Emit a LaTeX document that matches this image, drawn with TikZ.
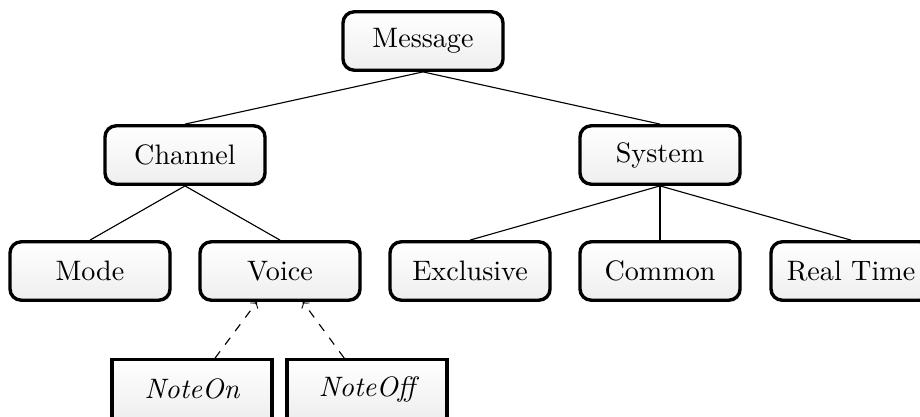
\documentclass[tikz,border=0pt]{standalone}
\usetikzlibrary{shadows,calc}
\tikzset{
  box/.style={draw, very thick, rounded corners=4pt, minimum width=2cm, minimum height=0.73cm,
    top color=white, bottom color=gray!13,
    drop shadow={opacity=0.25, shadow xshift=0.6pt, shadow yshift=-0.6pt}},
  leafbox/.style={box, sharp corners, font=\itshape},
  link/.style={draw, line width=0.4pt},
  dep/.style={->, dashed, line width=0.4pt},
}
\begin{document}
\begin{tikzpicture}[x=0.0125cm, y=-0.0125cm]
\useasboundingbox (0,0) rectangle (920,416);
\node[box] (Message) at (423,41) {Message};
\node[box] (Channel) at (185,155) {Channel};
\node[box] (System) at (660,155) {System};
\node[box] (Mode) at (90,271) {Mode};
\node[box] (Voice) at (280,271) {Voice};
\node[box] (Exclusive) at (470,271) {Exclusive};
\node[box] (Common) at (660,271) {Common};
\node[box] (RealTime) at (851,271) {Real Time};
\node[leafbox] (NoteOn) at (192,389) {NoteOn};
\node[leafbox] (NoteOff) at (367,389) {NoteOff};

\draw[link] (Message.south) -- (Channel.north);
\draw[link] (Message.south) -- (System.north);
\draw[link] (Channel.south) -- (Mode.north);
\draw[link] (Channel.south) -- (Voice.north);
\draw[link] (System.south) -- (Exclusive.north);
\draw[link] (System.south) -- (Common.north);
\draw[link] (System.south) -- (RealTime.north);
\draw[dep] (NoteOn) -- (Voice);
\draw[dep] (NoteOff) -- (Voice);
\end{tikzpicture}
\end{document}
